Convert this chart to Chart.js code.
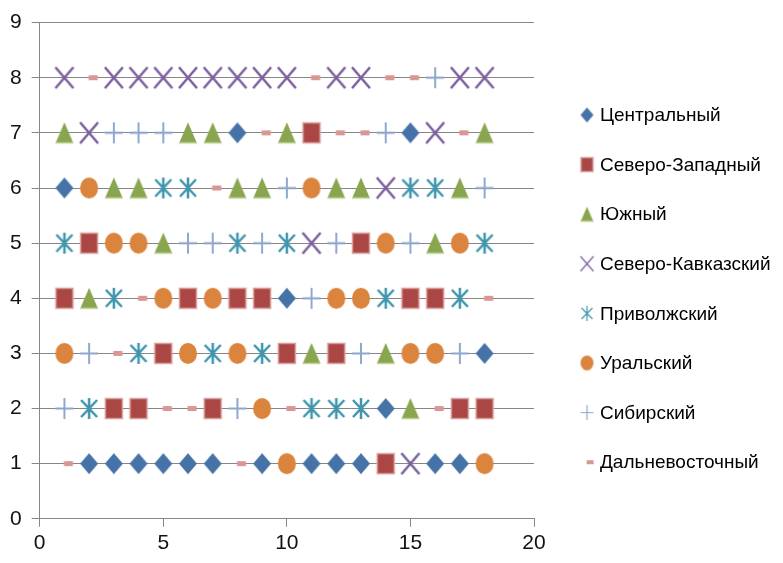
<!DOCTYPE html>
<html>
<head>
<meta charset="utf-8">
<script src="https://cdn.jsdelivr.net/npm/chart.js@4/dist/chart.umd.min.js"></script>
<style>
  body { margin: 0; background: #fff; }
</style>
</head>
<body>
<canvas id="chart" width="783" height="563"></canvas>
<script>
// federal districts, one code per series
var districts = ['Центральный', 'Северо-Западный', 'Южный', 'Северо-Кавказский',
                 'Приволжский', 'Уральский', 'Сибирский', 'Дальневосточный'];
var codes = ['C', 'Z', 'Y', 'K', 'P', 'U', 'S', 'D'];
var colors = ['#4572A7', '#AA4643', '#89A54E', '#7B5E9E', '#3D96AE', '#DB843D', '#8FA8D0', '#D99694'];
var shapes = ['diamond', 'square', 'triangle', 'xcross', 'asterisk', 'circle', 'plus', 'dash'];

// which district sits at x = 1..18 on each row
var row1 = ['D','C','C','C','C','C','C','D','C','U','C','C','C','Z','K','C','C','U'];
var row2 = ['S','P','Z','Z','D','D','Z','S','U','D','P','P','P','C','Y','D','Z','Z'];
var row3 = ['U','S','D','P','Z','U','P','U','P','Z','Y','Z','S','Y','U','U','S','C'];
var row4 = ['Z','Y','P','D','U','Z','U','Z','Z','C','S','U','U','P','Z','Z','P','D'];
var row5 = ['P','Z','U','U','Y','S','S','P','S','P','K','S','Z','U','S','Y','U','P'];
var row6 = ['C','U','Y','Y','P','P','D','Y','Y','S','U','Y','Y','K','P','P','Y','S'];
var row7 = ['Y','K','S','S','S','Y','Y','C','D','Y','Z','D','D','S','C','K','D','Y'];
var row8 = ['K','D','K','K','K','K','K','K','K','K','D','K','K','D','D','S','K','K'];
var rows = [row1, row2, row3, row4, row5, row6, row7, row8];

var xTicks = [0, 5, 10, 15, 20];
var yTicks = [0, 1, 2, 3, 4, 5, 6, 7, 8, 9];

var FONT = "'Liberation Sans', Arial, sans-serif";

function marker(kind, color, w, h) {
    var c = document.createElement('canvas');
    var off = 0;
    if (kind === 'dash') off = w * 0.45;
    c.width = Math.ceil(2 * (off + w / 2) + 4);
    c.height = Math.ceil(h + 4);
    var ctx = c.getContext('2d');
    var cx = c.width / 2, cy = c.height / 2;
    var l = cx - w / 2, r = cx + w / 2, t = cy - h / 2, b = cy + h / 2;
    ctx.fillStyle = color;
    ctx.strokeStyle = color;
    if (kind === 'diamond') {
        ctx.beginPath();
        ctx.moveTo(cx, t); ctx.lineTo(r, cy); ctx.lineTo(cx, b); ctx.lineTo(l, cy);
        ctx.closePath(); ctx.fill();
    } else if (kind === 'square') {
        ctx.fillRect(l, t, w, h);
        ctx.strokeStyle = '#D9A09E';
        ctx.lineWidth = 1.5;
        ctx.strokeRect(l + 0.5, t + 0.5, w - 1, h - 1);
    } else if (kind === 'triangle') {
        ctx.beginPath();
        ctx.moveTo(cx, t); ctx.lineTo(r, b); ctx.lineTo(l, b);
        ctx.closePath(); ctx.fill();
        ctx.strokeStyle = '#BFD19A';
        ctx.lineWidth = 1.5;
        ctx.beginPath(); ctx.moveTo(l, b - 0.5); ctx.lineTo(r, b - 0.5); ctx.stroke();
    } else if (kind === 'circle') {
        ctx.beginPath();
        ctx.ellipse(cx, cy, w / 2, h / 2, 0, 0, Math.PI * 2);
        ctx.fill();
    } else if (kind === 'xcross') {
        ctx.lineWidth = w > 14 ? 2.5 : 1.2;
        ctx.beginPath();
        ctx.moveTo(l, t); ctx.lineTo(r, b);
        ctx.moveTo(r, t); ctx.lineTo(l, b);
        ctx.stroke();
    } else if (kind === 'plus') {
        ctx.lineWidth = w > 14 ? 2 : 1.2;
        ctx.beginPath();
        ctx.moveTo(l, cy); ctx.lineTo(r, cy);
        ctx.moveTo(cx, t); ctx.lineTo(cx, b);
        ctx.stroke();
    } else if (kind === 'asterisk') {
        ctx.lineWidth = w > 14 ? 2.5 : 1.2;
        ctx.beginPath();
        ctx.moveTo(cx, t); ctx.lineTo(cx, b);
        ctx.moveTo(l + 1, t + 2); ctx.lineTo(r - 1, b - 2);
        ctx.moveTo(r - 1, t + 2); ctx.lineTo(l + 1, b - 2);
        ctx.stroke();
    } else if (kind === 'dash') {
        ctx.fillRect(cx + off - w / 2, cy - h / 2, w, h);
    }
    return c;
}

var chartMarks = [], legendMarks = [];
for (var i = 0; i < codes.length; i++) {
    if (shapes[i] === 'dash') {
        chartMarks.push(marker('dash', colors[i], 9, 5));
        legendMarks.push(marker('dash', colors[i], 7, 4));
    } else {
        chartMarks.push(marker(shapes[i], colors[i], 18, 21));
        legendMarks.push(marker(shapes[i], colors[i], 13, 15));
    }
}

var datasets = [];
for (var i = 0; i < codes.length; i++) {
    var pts = [];
    for (var y = 0; y < rows.length; y++) {
        for (var x = 0; x < rows[y].length; x++) {
            if (rows[y][x] === codes[i]) pts.push({x: x + 1, y: y + 1});
        }
    }
    datasets.push({
        label: districts[i],
        data: pts,
        pointStyle: chartMarks[i],
        backgroundColor: colors[i],
        borderColor: colors[i]
    });
}

// legend on the right, drawn by hand: the built-in one gets squeezed to a quarter of the width
var sideLegend = {
    id: 'sideLegend',
    afterDraw: function(chart) {
        var ctx = chart.ctx;
        var left = chart.chartArea.right + 53;
        var top = 115, step = 49.6;
        ctx.save();
        ctx.font = '19px ' + FONT;
        ctx.fillStyle = '#000';
        ctx.textBaseline = 'middle';
        var widest = 0;
        chart.data.datasets.forEach(function(ds) { widest = Math.max(widest, ctx.measureText(ds.label).width); });
        var sx = Math.min(1, 180 / widest);
        chart.data.datasets.forEach(function(ds, k) {
            var y = top + k * step;
            var m = legendMarks[k];
            ctx.drawImage(m, left - m.width / 2, y - m.height / 2);
            ctx.save();
            ctx.translate(left + 13, y + 1);
            ctx.scale(sx, 1);
            ctx.fillText(ds.label, 0, 0);
            ctx.restore();
        });
        ctx.restore();
    }
};

var chart = new Chart(document.getElementById('chart'), {
    type: 'scatter',
    data: { datasets: datasets },
    plugins: [sideLegend],
    options: {
        responsive: false,
        animation: false,
        layout: { padding: { top: 9, left: 0, right: 249, bottom: 3 } },
        scales: {
            x: {
                type: 'linear', min: 0, max: 20,
                afterBuildTicks: function(axis) { axis.ticks = xTicks.map(function(v) { return {value: v}; }); },
                ticks: { color: '#111', font: { family: FONT, size: 21 }, padding: 4 },
                grid: { drawOnChartArea: false, color: '#868686', tickLength: 8 },
                border: { color: '#868686' }
            },
            y: {
                min: 0, max: 9,
                afterBuildTicks: function(axis) { axis.ticks = yTicks.map(function(v) { return {value: v}; }); },
                ticks: { color: '#111', font: { family: FONT, size: 21 }, padding: 10 },
                grid: { color: '#868686', tickLength: 8 },
                border: { color: '#868686' }
            }
        },
        plugins: {
            tooltip: { enabled: false },
            legend: { display: false }
        }
    }
});
</script>
</body>
</html>
